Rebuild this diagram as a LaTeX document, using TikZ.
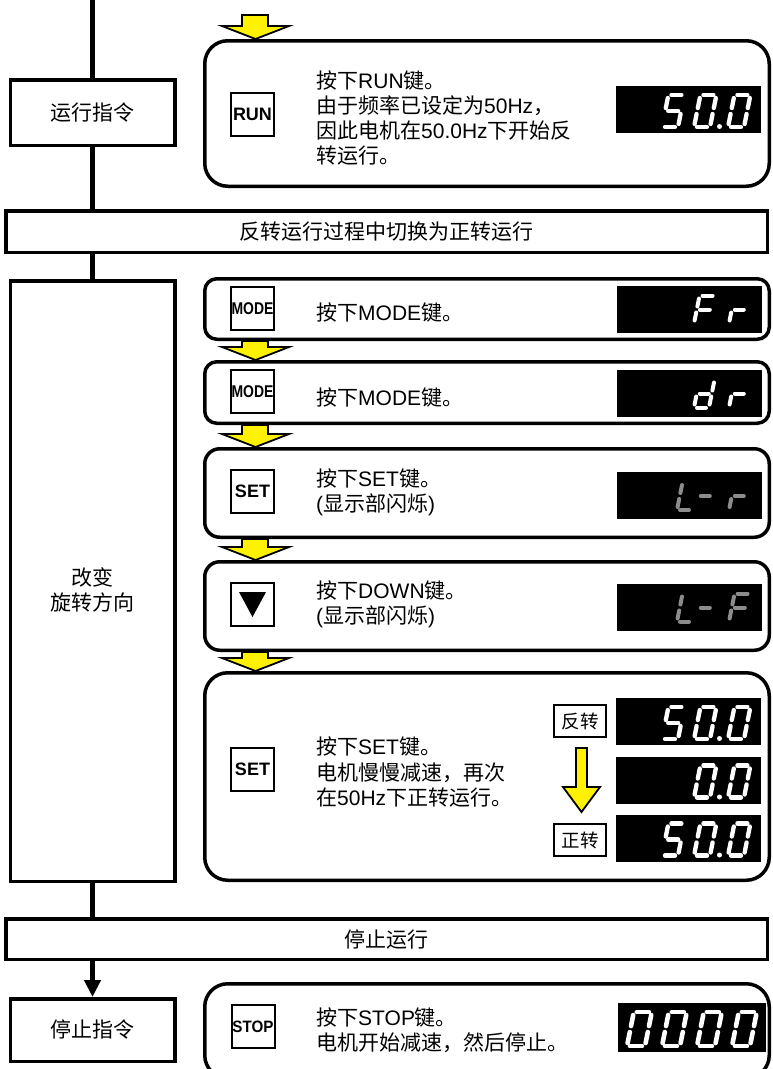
\documentclass[tikz,border=0pt]{standalone}
\usepackage{fontspec}
\usepackage{graphicx}
\setmainfont{Liberation Sans}
\newfontfamily\cjk{Noto Sans CJK SC}
\usetikzlibrary{arrows.meta,calc}
\pgfdeclarelayer{background}
\pgfsetlayers{background,main}
\newcommand\zh[1]{{\cjk #1}}
\newcommand\bodyfont{\fontsize{21}{25.3}\selectfont}
\def\sgap{3}
\def\sevensega{(\sgap,-\dh)--(\dw-\sgap,-\dh)}
\def\sevensegb{(\dw,-\dh+\sgap)--(\dw,-\dh/2-\sgap)}
\def\sevensegc{(\dw,-\dh/2+\sgap)--(\dw,-\sgap)}
\def\sevensegd{(\sgap,0)--(\dw-\sgap,0)}
\def\sevensege{(0,-\sgap)--(0,-\dh/2+\sgap)}
\def\sevensegf{(0,-\dh/2-\sgap)--(0,-\dh+\sgap)}
\def\sevensegg{(\sgap,-\dh/2)--(\dw-\sgap,-\dh/2)}
% #1 x0, #2 baseline, #3 height, #4 width, #5 style, #6 segments
\newcommand\segdigit[6]{%
  \begin{scope}[shift={(#1,#2)}, xslant=0.2]
    \def\dh{#3}\def\dw{#4}%
    \foreach \s in {#6}{\draw[segline, #5] \csname sevenseg\s\endcsname;}
  \end{scope}}
\newcommand\yarrow[2]{%
  \draw[yarrow] let \p1=(#1), \p2=(#2) in
    (242pt,\y1) -- (242pt,\y2+13pt) -- (222pt,\y2+13pt) -- (255.5pt,\y2)
    -- (289pt,\y2+13pt) -- (268pt,\y2+13pt) -- (268pt,\y1) -- cycle;}
\tikzset{
  segline/.style={line cap=round, line width=4.2pt},
  bigseg/.style={draw=white, line width=4.3pt},
  smallseg/.style={draw=white, line width=4pt},
  grayseg/.style={draw={rgb,255:red,140;green,140;blue,140}, line width=4pt},
  stopseg/.style={draw=white, line width=4.6pt},
  mainline/.style={line width=5pt},
  lbox/.style={draw, line width=3.5pt, fill=white, minimum width=164.5pt, inner sep=0pt, align=center, font=\bodyfont},
  banner/.style={draw, line width=3.5pt, fill=white, minimum width=761.5pt, inner sep=0pt, font=\bodyfont},
  rbox/.style={draw, line width=3.5pt, fill=white, rounded corners=#1, minimum width=564.5pt, inner sep=0pt},
  btn/.style={draw, line width=2pt, fill=white, minimum width=43pt, minimum height=43pt, inner sep=0pt, font=\bfseries\fontsize{18}{18}\selectfont},
  txt/.style={anchor=west, inner sep=0pt, align=left, font=\bodyfont},
  lab/.style={draw, line width=2pt, fill=white, minimum width=52pt, minimum height=32pt, inner sep=0pt, font=\fontsize{18.5}{18.5}\selectfont},
  disp/.style={fill=black, minimum width=145pt, minimum height=47pt, inner sep=0pt},
  yarrow/.style={draw=black, fill=yellow, line width=1.8pt, line join=miter},
}
\begin{document}
\begin{tikzpicture}[x=1pt, y=-1pt]
\useasboundingbox (0,0) rectangle (772,1069);
\clip (0,0) rectangle (772,1069);
% left column
\coordinate (top) at (92.5,-3);
\node[lbox, minimum height=65.5pt] (cmd1) at (92.5,112.5) {\zh{运行指令}};
\node[banner, minimum height=41.5pt] (ban1) at (386.5,231.5) {\zh{反转运行过程中切换为正转运行}};
\node[lbox, minimum height=600.5pt] (big) at (92.5,581) {};
\node[txt, anchor=center, align=center] (bigtxt) at (92.5,590) {\zh{改变}\\\zh{旋转方向}};
\node[banner, minimum height=40.5pt] (ban2) at (386.5,939) {\zh{停止运行}};
\node[lbox, minimum height=62.5pt] (cmd2) at (92.5,1030) {\zh{停止指令}};
\draw[mainline] (top) -- (cmd1.north);
\draw[mainline] (cmd1.south) -- (cmd1.south |- ban1.north);
\draw[mainline] (cmd1.south |- ban1.south) -- (big.north);
\draw[mainline] (big.south) -- (big.south |- ban2.north);
\draw[mainline, -{Triangle[width=16pt,length=17pt]}] (big.south |- ban2.south) -- (cmd2.north);
% step boxes
\node[rbox=23, minimum height=145.5pt] (r0) at (487,113.5) {};
\node[rbox=12, minimum height=60.5pt] (r1) at (487,309) {};
\node[rbox=12, minimum height=61.5pt] (r2) at (487,392.5) {};
\node[rbox=15, minimum height=88.5pt] (r3) at (487,493) {};
\node[rbox=15, minimum height=88.5pt] (r4) at (487,606) {};
\node[rbox=23, minimum height=207.5pt] (r5) at (487,776.5) {};
\node[rbox=23, minimum height=94.5pt] (r6) at (487,1031) {};
\coordinate (a0) at (255.5,15);
\begin{pgfonlayer}{background}
\yarrow{a0}{r0.north}
\yarrow{r1.south}{r2.north}
\yarrow{r2.south}{r3.north}
\yarrow{r3.south}{r4.north}
\yarrow{r4.south}{r5.north}
\end{pgfonlayer}
% buttons
\node[btn] (b0) at (252.5,114) {RUN};
\node[btn] (b1) at (252.5,308.5) {\fontsize{17}{17}\selectfont\scalebox{0.82}[1]{MODE}};
\node[btn] (b2) at (252.5,391.5) {\fontsize{17}{17}\selectfont\scalebox{0.82}[1]{MODE}};
\node[btn] (b3) at (252.5,491) {SET};
\node[btn] (b4) at (252.5,604.5) {};
\fill ($(b4.center)+(-13.5,-12.5)$) -- ($(b4.center)+(13.5,-12.5)$) -- ($(b4.center)+(0,12.5)$) -- cycle;
\node[btn] (b5) at (252.5,769) {SET};
\node[btn] (b6) at (253,1026.5) {\fontsize{16.5}{16.5}\selectfont\scalebox{0.92}[1]{STOP}};
% texts
\node[txt] (t0) at (316,118) {\zh{按下}RUN\zh{键。}\\\zh{由于频率已设定为}50Hz\zh{，}\\\zh{因此电机在}50.0Hz\zh{下开始反}\\\zh{转运行。}};
\node[txt] (t1) at (316,313) {\zh{按下}MODE\zh{键。}};
\node[txt] (t2) at (316,398) {\zh{按下}MODE\zh{键。}};
\node[txt] (t3) at (316,492) {\zh{按下}SET\zh{键。}\\(\zh{显示部闪烁})};
\node[txt] (t4) at (316,604) {\zh{按下}DOWN\zh{键。}\\(\zh{显示部闪烁})};
\node[txt] (t5) at (316,772) {\zh{按下}SET\zh{键。}\\\zh{电机慢慢减速，再次}\\\zh{在}50Hz\zh{下正转运行。}};
\node[txt] (t6) at (316,1030) {\zh{按下}STOP\zh{键。}\\\zh{电机开始减速，然后停止。}};
% labels and arrow in last SET box
\node[lab] (l1) at (580,721) {\zh{反转}};
\node[lab] (l2) at (580,840) {\zh{正转}};
\draw[yarrow] let \p1=(l1.south), \p2=(l2.north) in
  (576pt,\y1-10pt) -- (576pt,\y2+36pt) -- (563pt,\y2+36pt) -- (581.5pt,\y2+11pt)
  -- (600pt,\y2+36pt) -- (587pt,\y2+36pt) -- (587pt,\y1-10pt) -- cycle;
% displays
\node[disp] (d0) at (688.5,109.5) {};
\node[disp] (d1) at (689,309) {};
\node[disp] (d2) at (689,393) {};
\node[disp] (d3) at (689,495.5) {};
\node[disp] (d4) at (689,607) {};
\node[disp] (d5a) at (688.5,721.5) {};
\node[disp] (d5b) at (688.5,780) {};
\node[disp] (d5c) at (688.5,838) {};
\node[disp, minimum width=148pt, minimum height=49pt] (d6) at (692,1027.5) {};
% digits 50.0
\segdigit{662}{127}{32}{16}{bigseg}{a,f,g,c,d}
\segdigit{694}{127}{32}{16}{bigseg}{a,b,c,d,e,f}
\fill[white] (719.5,126.5) circle (2.5);
\segdigit{728}{127}{32}{16}{bigseg}{a,b,c,d,e,f}
% Fr
\segdigit{694}{323.5}{28}{16}{smallseg}{a,f,g,e}
\segdigit{729}{323.5}{28}{15}{smallseg}{e,g}
% dr
\segdigit{694}{407.5}{28}{15}{smallseg}{b,c,d,e,g}
\segdigit{729}{407.5}{28}{15}{smallseg}{e,g}
% L-r
\segdigit{677}{510}{28}{15}{grayseg}{f,e,d}
\segdigit{695}{510}{28}{15}{grayseg}{g}
\segdigit{729}{510}{28}{15}{grayseg}{e,g}
% L-F
\segdigit{677}{621.5}{28}{15}{grayseg}{f,e,d}
\segdigit{695}{621.5}{28}{15}{grayseg}{g}
\segdigit{729}{621.5}{28}{16}{grayseg}{a,f,g,e}
% 50.0 / 0.0 / 50.0
\segdigit{662}{739}{32}{16}{bigseg}{a,f,g,c,d}
\segdigit{694}{739}{32}{16}{bigseg}{a,b,c,d,e,f}
\fill[white] (719.5,738.5) circle (2.5);
\segdigit{728}{739}{32}{16}{bigseg}{a,b,c,d,e,f}
\segdigit{694}{797.5}{32}{16}{bigseg}{a,b,c,d,e,f}
\fill[white] (719.5,797) circle (2.5);
\segdigit{728}{797.5}{32}{16}{bigseg}{a,b,c,d,e,f}
\segdigit{662}{855.5}{32}{16}{bigseg}{a,f,g,c,d}
\segdigit{694}{855.5}{32}{16}{bigseg}{a,b,c,d,e,f}
\fill[white] (719.5,855) circle (2.5);
\segdigit{728}{855.5}{32}{16}{bigseg}{a,b,c,d,e,f}
% 0000
\segdigit{627}{1046}{34}{18}{stopseg}{a,b,c,d,e,f}
\segdigit{662}{1046}{34}{18}{stopseg}{a,b,c,d,e,f}
\segdigit{697}{1046}{34}{18}{stopseg}{a,b,c,d,e,f}
\segdigit{732}{1046}{34}{18}{stopseg}{a,b,c,d,e,f}
\end{tikzpicture}
\end{document}
